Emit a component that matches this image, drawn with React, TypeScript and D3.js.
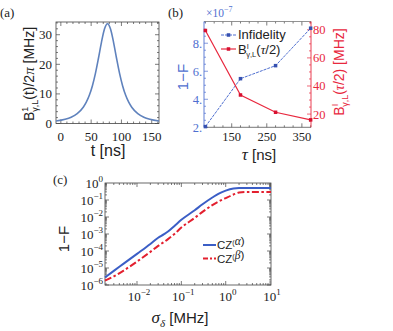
import React, { useRef, useEffect } from "react";
import * as d3 from "d3";

// (a) pulse envelope B(t)/2pi in MHz vs t in ns
const pulseT = [-8, 7, 17, 27, 37, 42, 47, 52, 57, 62, 67, 72, 77, 82, 87, 92, 97, 102, 107, 112, 117, 127, 137, 147, 162];
const pulseB = [0.85, 1.44, 2.14, 3.34, 5.5, 7.2, 9.53, 12.69, 16.85, 21.96, 27.44, 31.93, 33.7, 31.93, 27.44, 21.96, 16.85, 12.69, 9.53, 7.2, 5.5, 3.34, 2.14, 1.44, 0.85];

// (b) gate time scan
const tauNs = [75, 175, 275, 375];
const infidelity = [2.05, 5.47, 6.4, 9.07]; // x 1e-7
const bHalf = [79.5, 33.6, 21.3, 15.9]; // MHz

// (c) noise strength scan
const sigmaMHz = [0.0019, 0.003, 0.005, 0.01, 0.02, 0.03, 0.04, 0.05, 0.07, 0.1, 0.2, 0.3, 0.5, 0.7, 1, 1.5, 2, 3, 5, 10.5];
const czAlpha = [2.8e-6, 6.8e-6, 1.8e-5, 6.8e-5, 2.6e-4, 6.0e-4, 9.5e-4, 1.4e-3, 3.0e-3, 6.8e-3, 0.025, 0.056, 0.14, 0.24, 0.355, 0.47, 0.5, 0.5, 0.5, 0.5];
const czBeta = [1.8e-6, 3.2e-6, 7.1e-6, 2.4e-5, 8.9e-5, 2.0e-4, 3.3e-4, 5.0e-4, 1.0e-3, 2.4e-3, 8.9e-3, 0.02, 0.05, 0.083, 0.13, 0.21, 0.275, 0.3, 0.3, 0.3];

// tick labels
const ticksAX = [0, 50, 100, 150];
const ticksAY = [0, 10, 20, 30];
const ticksBX = [150, 250, 350];
const ticksBL = [2, 4, 6, 8];
const ticksBR = [20, 40, 60, 80];
const ticksCX = [-2, -1, 0, 1];
const ticksCY = [0, -1, -2, -3, -4, -5, -6];

const SERIF = "'Liberation Serif', 'Times New Roman', serif";
const SANS = "'Liberation Sans', Arial, sans-serif";
const BLUE_A = "#5f82bd";
const BLUE_B = "#4f6fd0";
const RED_B = "#e8283e";
const BLUE_C = "#3b5ec6";
const RED_C = "#e3202f";
const FRAME = "#444";

type Opt = { dx?: number; dy?: number; fs?: number; it?: boolean; ff?: string };
const rich = (sel: any, segs: [string, Opt?][]) => {
  segs.forEach(([s, o = {}]) => {
    const t = sel.append("tspan").text(s);
    if (o.dx != null) t.attr("dx", o.dx);
    if (o.dy != null) t.attr("dy", o.dy);
    if (o.fs) t.attr("font-size", o.fs);
    if (o.it) t.attr("font-style", "italic");
    if (o.ff) t.attr("font-family", o.ff);
  });
};

const App = () => {
  const svgRef = useRef<SVGSVGElement>(null);

  useEffect(() => {
    const svg = d3.select(svgRef.current);
    svg.selectAll("*").remove();

    const line = (g: any, x1: number, y1: number, x2: number, y2: number, c: string, w = 1) =>
      g.append("line").attr("x1", x1).attr("y1", y1).attr("x2", x2).attr("y2", y2)
        .attr("stroke", c).attr("stroke-width", w);

    const txt = (x: number, y: number, s: string, o: any = {}) =>
      svg.append("text").attr("x", x).attr("y", y).text(s)
        .attr("font-family", o.ff || SERIF).attr("font-size", o.fs || 12.5)
        .attr("fill", o.fill || "#222").attr("text-anchor", o.anchor || "start");

    // ---------- (a) ----------
    const xA = d3.scaleLinear().domain([-8, 162]).range([56, 159]);
    const yA = d3.scaleLinear().domain([0, 34.3]).range([123.5, 22]);
    const gA = svg.append("g");
    d3.range(0, 161, 10).forEach(v => {
      const len = v % 50 === 0 ? 4 : 2;
      line(gA, xA(v), 123.5, xA(v), 123.5 - len, FRAME, 0.7);
      line(gA, xA(v), 22, xA(v), 22 + len, FRAME, 0.7);
    });
    d3.range(0, 34.1, 2).forEach(v => {
      const len = v % 10 === 0 ? 4 : 2;
      line(gA, 56, yA(v), 56 + len, yA(v), FRAME, 0.7);
      line(gA, 159, yA(v), 159 - len, yA(v), FRAME, 0.7);
    });
    gA.append("rect").attr("x", 56).attr("y", 22).attr("width", 103).attr("height", 101.5)
      .attr("fill", "none").attr("stroke", FRAME).attr("stroke-width", 0.8);
    gA.append("path")
      .attr("d", d3.line<number>().x((d, i) => xA(pulseT[i])).y(d => yA(d)).curve(d3.curveMonotoneX)(pulseB))
      .attr("fill", "none").attr("stroke", BLUE_A).attr("stroke-width", 1.6);
    ticksAX.forEach(v => txt(xA(v), 141, String(v), { anchor: "middle", fs: 13 }));
    ticksAY.forEach(v => txt(52, yA(v) + 4.5, String(v), { anchor: "end", fs: 13 }));
    txt(108, 156, "t [ns]", { ff: SANS, fs: 16, anchor: "middle" });
    const labA = svg.append("text").attr("transform", "translate(34,74) rotate(-90)")
      .attr("text-anchor", "middle").attr("font-family", SANS).attr("font-size", 14).attr("fill", "#222");
    rich(labA, [["B"], ["1", { fs: 9, dy: -6 }], ["γ,L", { fs: 9, dx: -5, dy: 10 }],
      ["(t)/2", { fs: 14, dy: -4 }], ["π", { it: true, ff: SERIF, fs: 15 }], [" [MHz]", { fs: 14 }]]);
    txt(0, 17, "(a)", { fs: 13 });

    // ---------- (b) ----------
    const xB = d3.scaleLinear().domain([71, 376]).range([204, 311]);
    const yBL = d3.scaleLinear().domain([2, 9.55]).range([127.3, 21.5]);
    const yBR = d3.scaleLinear().domain([10.6, 85.9]).range([127.3, 21.5]);
    const gB = svg.append("g");
    d3.range(75, 376, 25).forEach(v => {
      const len = (v - 50) % 100 === 0 ? 4 : 2;
      line(gB, xB(v), 127.3, xB(v), 127.3 - len, FRAME, 0.7);
      line(gB, xB(v), 21.5, xB(v), 21.5 + len, FRAME, 0.7);
    });
    d3.range(2, 9.6, 0.5).forEach(v => {
      const len = v % 2 === 0 ? 4 : 2;
      line(gB, 204, yBL(v), 204 + len, yBL(v), BLUE_B, 0.7);
    });
    d3.range(15, 86, 5).forEach(v => {
      const len = v % 20 === 0 ? 4 : 2;
      line(gB, 311, yBR(v), 311 - len, yBR(v), RED_B, 0.7);
    });
    line(gB, 204, 21.5, 311, 21.5, "#777", 0.8);
    line(gB, 204, 127.3, 311, 127.3, "#555", 0.8);
    line(gB, 204, 21.5, 204, 127.3, BLUE_B, 0.9);
    line(gB, 311, 21.5, 311, 127.3, RED_B, 0.9);
    gB.append("path")
      .attr("d", d3.line<number>().x((d, i) => xB(tauNs[i])).y(d => yBL(d))(infidelity))
      .attr("fill", "none").attr("stroke", BLUE_B).attr("stroke-width", 1).attr("stroke-dasharray", "3,1");
    gB.append("path")
      .attr("d", d3.line<number>().x((d, i) => xB(tauNs[i])).y(d => yBR(d))(bHalf))
      .attr("fill", "none").attr("stroke", RED_B).attr("stroke-width", 1.2);
    gB.selectAll(".pi").data(infidelity).enter().append("rect")
      .attr("x", (d, i) => xB(tauNs[i]) - 1.75).attr("y", d => yBL(d) - 1.75)
      .attr("width", 3.5).attr("height", 3.5).attr("fill", "#3550b0");
    gB.selectAll(".pb").data(bHalf).enter().append("rect")
      .attr("x", (d, i) => xB(tauNs[i]) - 1.75).attr("y", d => yBR(d) - 1.75)
      .attr("width", 3.5).attr("height", 3.5).attr("fill", "#d81030");
    ticksBX.forEach(v => txt(xB(v), 141, String(v), { anchor: "middle", fs: 12.5 }));
    ticksBL.forEach(v => txt(202, yBL(v) + 4.5, v + ".", { anchor: "end", fs: 12.5, fill: BLUE_B }));
    ticksBR.forEach(v => txt(313, yBR(v) + 4.5, String(v), { fs: 12.5, fill: RED_B }));
    const labBx = svg.append("text").attr("x", 259).attr("y", 160).attr("text-anchor", "middle")
      .attr("font-family", SANS).attr("font-size", 15).attr("fill", "#222");
    rich(labBx, [["τ", { it: true, ff: SERIF, fs: 17 }], [" [ns]"]]);
    svg.append("text").attr("transform", "translate(188,77) rotate(-90)").attr("text-anchor", "middle")
      .attr("font-family", SANS).attr("font-size", 15).attr("fill", BLUE_B).text("1−F");
    const labBr = svg.append("text").attr("transform", "translate(344,72) rotate(-90)")
      .attr("text-anchor", "middle").attr("font-family", SANS).attr("font-size", 14).attr("fill", RED_B);
    rich(labBr, [["B"], ["I", { fs: 9, dy: -6 }], ["γ,L", { fs: 9, dx: -3, dy: 10 }],
      ["(", { fs: 14, dy: -4 }], ["τ", { it: true, ff: SERIF }], ["/2) [MHz]"]]);
    const x7 = svg.append("text").attr("x", 206).attr("y", 17).attr("font-family", SERIF)
      .attr("font-size", 11.5).attr("fill", BLUE_B);
    rich(x7, [["×10"], ["−7", { fs: 8, dy: -5 }]]);
    txt(168, 17, "(b)", { fs: 13 });
    // legend (b)
    line(svg, 221, 35, 236, 35, BLUE_B, 1).attr("stroke-dasharray", "3,1");
    svg.append("rect").attr("x", 226.75).attr("y", 33.25).attr("width", 3.5).attr("height", 3.5).attr("fill", "#3550b0");
    txt(238, 39, "Infidelity", { ff: SANS, fs: 13 });
    line(svg, 221, 49, 236, 49, RED_B, 1.2);
    svg.append("rect").attr("x", 226.75).attr("y", 47.25).attr("width", 3.5).attr("height", 3.5).attr("fill", "#d81030");
    const legB = svg.append("text").attr("x", 238).attr("y", 53.5).attr("font-family", SANS)
      .attr("font-size", 13).attr("fill", "#222");
    rich(legB, [["B"], ["I", { fs: 7.5, dy: -5 }], ["γ,L", { fs: 7.5, dx: -2.5, dy: 8 }],
      ["(", { fs: 13, dy: -3 }], ["τ", { it: true, ff: SERIF }], ["/2)"]]);

    // ---------- (c) ----------
    const xC = d3.scaleLog().domain([0.0019, 10.5]).range([105, 271]);
    const yC = d3.scaleLog().domain([1e-6, 1]).range([285, 183]);
    const gC = svg.append("g");
    [-3, -2, -1, 0, 1].forEach(k => d3.range(1, 10).forEach(m => {
      const v = m * Math.pow(10, k);
      if (v < 0.0019 || v > 10.5) return;
      const len = m === 1 ? 4 : 2;
      line(gC, xC(v), 285, xC(v), 285 - len, FRAME, 0.7);
      line(gC, xC(v), 183, xC(v), 183 + len, FRAME, 0.7);
    }));
    [-6, -5, -4, -3, -2, -1].forEach(k => d3.range(1, 10).forEach(m => {
      const v = m * Math.pow(10, k);
      const len = m === 1 ? 4 : 2;
      line(gC, 105, yC(v), 105 + len, yC(v), FRAME, 0.7);
      line(gC, 271, yC(v), 271 - len, yC(v), FRAME, 0.7);
    }));
    gC.append("rect").attr("x", 105).attr("y", 183).attr("width", 166).attr("height", 102)
      .attr("fill", "none").attr("stroke", FRAME).attr("stroke-width", 0.8);
    const lineC = (vals: number[]) =>
      d3.line<number>().x((d, i) => xC(sigmaMHz[i])).y(d => yC(d)).curve(d3.curveMonotoneX)(vals);
    gC.append("path").attr("d", lineC(czBeta)).attr("fill", "none").attr("stroke", RED_C)
      .attr("stroke-width", 2).attr("stroke-dasharray", "7,2.5,2.5,2.5");
    gC.append("path").attr("d", lineC(czAlpha)).attr("fill", "none").attr("stroke", BLUE_C)
      .attr("stroke-width", 2);
    ticksCX.forEach(k => {
      const t = svg.append("text").attr("x", xC(Math.pow(10, k)) + 2).attr("y", 301).attr("text-anchor", "middle")
        .attr("font-family", SERIF).attr("font-size", 13).attr("fill", "#222");
      rich(t, [["10"], [k < 0 ? "−" + -k : String(k), { fs: 9, dy: -6 }]]);
    });
    ticksCY.forEach(k => {
      const t = svg.append("text").attr("x", 103).attr("y", yC(Math.pow(10, k)) + 5).attr("text-anchor", "end")
        .attr("font-family", SERIF).attr("font-size", 13).attr("fill", "#222");
      rich(t, [["10"], [k < 0 ? "−" + -k : String(k), { fs: 9, dy: -6 }]]);
    });
    svg.append("text").attr("transform", "translate(69,239) rotate(-90)").attr("text-anchor", "middle")
      .attr("font-family", SANS).attr("font-size", 15).attr("fill", "#222").text("1−F");
    const labC = svg.append("text").attr("x", 180).attr("y", 323).attr("text-anchor", "middle")
      .attr("font-family", SANS).attr("font-size", 15).attr("fill", "#222");
    rich(labC, [["σ", { it: true, ff: SERIF, fs: 17 }], ["δ", { it: true, ff: SERIF, fs: 11, dy: 4 }],
      [" [MHz]", { fs: 15, dy: -4 }]]);
    txt(53, 184, "(c)", { fs: 13 });
    // legend (c)
    line(svg, 203, 245, 216, 245, BLUE_C, 2);
    const lc1 = svg.append("text").attr("x", 217).attr("y", 249).attr("font-family", SANS)
      .attr("font-size", 11.5).attr("fill", "#222");
    rich(lc1, [["CZ"], ["(", { fs: 7, dy: -4 }], ["α", { it: true, ff: SERIF }], [")"]]);
    line(svg, 203, 258.5, 216, 258.5, RED_C, 2).attr("stroke-dasharray", "5,2,2,2");
    const lc2 = svg.append("text").attr("x", 217).attr("y", 262.5).attr("font-family", SANS)
      .attr("font-size", 11.5).attr("fill", "#222");
    rich(lc2, [["CZ"], ["(", { fs: 7, dy: -4 }], ["β", { it: true, ff: SERIF }], [")"]]);
  }, []);

  return (
    <svg ref={svgRef} width={393} height={331}
      style={{ position: "absolute", left: 0, top: 0, background: "#fff" }} />
  );
};

export default App;
